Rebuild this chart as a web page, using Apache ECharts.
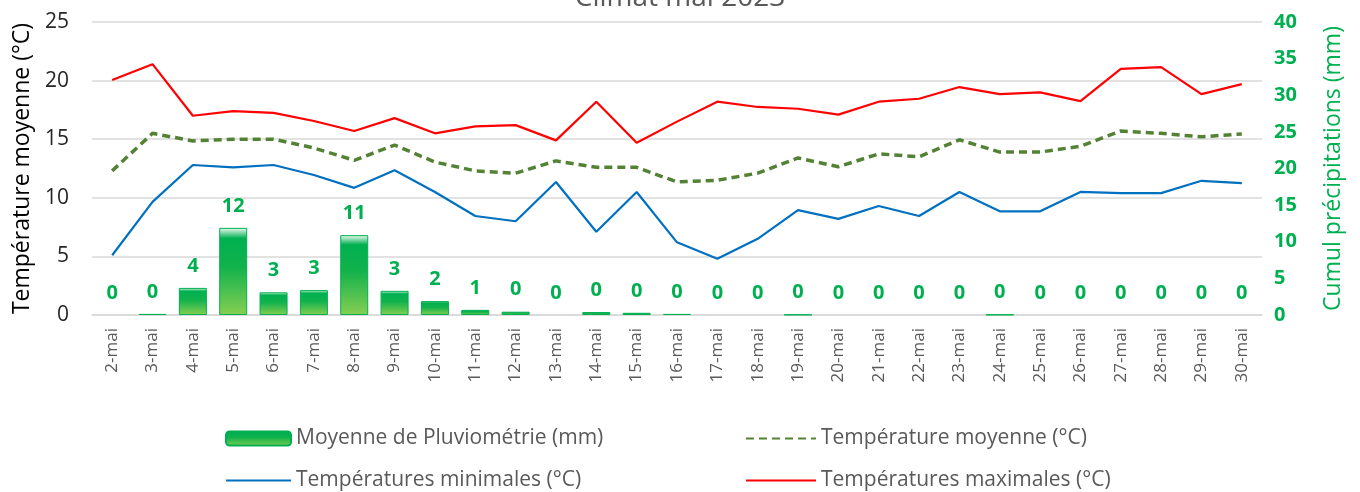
<!DOCTYPE html>
<html>
<head>
<meta charset="utf-8">
<script src="https://cdn.jsdelivr.net/npm/echarts@6/dist/echarts.min.js"></script>
<style>
  html, body { margin: 0; padding: 0; background: #fff; }
  #chart { width: 1360px; height: 492px; }
</style>
</head>
<body>
<div id="chart"></div>
<script>
const days = [
  "2-mai", "3-mai", "4-mai", "5-mai", "6-mai", "7-mai", "8-mai", "9-mai", "10-mai", "11-mai",
  "12-mai", "13-mai", "14-mai", "15-mai", "16-mai", "17-mai", "18-mai", "19-mai", "20-mai", "21-mai",
  "22-mai", "23-mai", "24-mai", "25-mai", "26-mai", "27-mai", "28-mai", "29-mai", "30-mai"
];
const pluie = [
  0, 0.15, 3.7, 11.9, 3.1, 3.4, 10.9, 3.3, 1.9, 0.7,
  0.45, 0, 0.4, 0.3, 0.15, 0, 0, 0.05, 0, 0,
  0, 0, 0.05, 0, 0, 0, 0, 0, 0
];
const tMoy = [
  12.3, 15.5, 14.85, 15.0, 15.0, 14.25, 13.2, 14.5, 13.05, 12.3,
  12.1, 13.15, 12.6, 12.6, 11.35, 11.5, 12.1, 13.4, 12.65, 13.75,
  13.5, 14.95, 13.9, 13.9, 14.4, 15.7, 15.5, 15.2, 15.45
];
const tMin = [
  5.1, 9.65, 12.8, 12.6, 12.8, 11.95, 10.85, 12.35, 10.5, 8.45,
  8.0, 11.35, 7.1, 10.5, 6.2, 4.8, 6.5, 8.95, 8.2, 9.3,
  8.45, 10.5, 8.85, 8.85, 10.5, 10.4, 10.4, 11.45, 11.25
];
const tMax = [
  20.05, 21.4, 17.0, 17.4, 17.25, 16.55, 15.7, 16.8, 15.5, 16.1,
  16.2, 14.9, 18.2, 14.7, 16.5, 18.2, 17.75, 17.6, 17.1, 18.2,
  18.45, 19.45, 18.85, 19.0, 18.25, 21.0, 21.15, 18.85, 19.7
];

const FONT = "Open Sans";
const chart = echarts.init(document.getElementById("chart"));

const barColor = new echarts.graphic.LinearGradient(0, 0, 0, 1, [
  { offset: 0, color: "#f2fbf5" },
  { offset: 0.12, color: "#00b050" },
  { offset: 0.45, color: "#12b24c" },
  { offset: 1, color: "#86cf52" }
]);

// zero-height bars: no outline, only the label
const barData = pluie.map(v => ({
  value: v,
  itemStyle: v > 0 ? {} : { borderWidth: 0, opacity: 0 }
}));

function legendAt(name, left, top, w, isLine) {
  return {
    data: [isLine ? { name: name, itemStyle: { opacity: 0 } } : name],
    left: left,
    top: top,
    itemWidth: w,
    itemHeight: 14,
    itemGap: 6,
    textStyle: { fontFamily: FONT, fontSize: 21, color: "#595959" }
  };
}

const option = {
  animation: false,
  title: {
    text: "Climat mai 2023",
    left: "center",
    top: -21,
    textStyle: { fontFamily: FONT, fontSize: 28, fontWeight: "normal", color: "#595959" }
  },
  legend: [
    legendAt("Moyenne de Pluviométrie (mm)", 220, 423, 65, false),
    legendAt("Température moyenne (°C)", 740, 423, 70, true),
    legendAt("Températures minimales (°C)", 220, 465, 65, true),
    legendAt("Températures maximales (°C)", 740, 465, 70, true)
  ],
  grid: { left: 92, right: 98, top: 22, bottom: 177 },
  xAxis: {
    type: "category",
    data: days,
    axisLine: { lineStyle: { color: "#d9d9d9", width: 1.5 } },
    axisTick: { show: false },
    axisLabel: {
      rotate: 90,
      margin: 13,
      fontFamily: FONT,
      fontSize: 17,
      color: "#595959"
    }
  },
  yAxis: [
    {
      type: "value",
      min: 0,
      max: 25,
      interval: 5,
      name: "Température moyenne (°C)",
      nameLocation: "middle",
      nameGap: 57,
      nameTextStyle: { fontFamily: FONT, fontSize: 23, color: "#000" },
      axisLine: { show: false },
      axisTick: { show: false },
      axisLabel: { fontFamily: FONT, fontSize: 21, color: "#262626", margin: 23 },
      splitLine: { lineStyle: { color: "#d9d9d9", width: 1.5 } }
    },
    {
      type: "value",
      min: 0,
      max: 40,
      interval: 5,
      name: "Cumul précipitations (mm)",
      nameLocation: "middle",
      nameGap: 60,
      nameRotate: 90,
      nameTextStyle: { fontFamily: FONT, fontSize: 23, color: "#00b050" },
      axisLine: { show: false },
      axisTick: { show: false },
      axisLabel: { fontFamily: FONT, fontSize: 20, fontWeight: "bold", color: "#00b050", margin: 12 },
      splitLine: { show: false }
    }
  ],
  series: [
    {
      name: "Moyenne de Pluviométrie (mm)",
      type: "bar",
      yAxisIndex: 1,
      data: barData,
      barWidth: 28,
      itemStyle: { color: barColor, borderColor: "#00b050", borderWidth: 1 },
      label: {
        show: true,
        position: "top",
        distance: 12,
        fontFamily: FONT,
        fontSize: 20,
        fontWeight: "bold",
        color: "#00b050",
        opacity: 1,
        formatter: p => Math.round(p.value)
      }
    },
    {
      name: "Température moyenne (°C)",
      type: "line",
      data: tMoy,
      symbol: "none",
      lineStyle: { color: "#548235", width: 3.5, type: [8, 5] },
      itemStyle: { color: "#548235" }
    },
    {
      name: "Températures minimales (°C)",
      type: "line",
      data: tMin,
      symbol: "none",
      lineStyle: { color: "#0070c0", width: 2.2 },
      itemStyle: { color: "#0070c0" }
    },
    {
      name: "Températures maximales (°C)",
      type: "line",
      data: tMax,
      symbol: "none",
      lineStyle: { color: "#ff0000", width: 2.2 },
      itemStyle: { color: "#ff0000" }
    }
  ]
};

chart.setOption(option);
</script>
</body>
</html>
